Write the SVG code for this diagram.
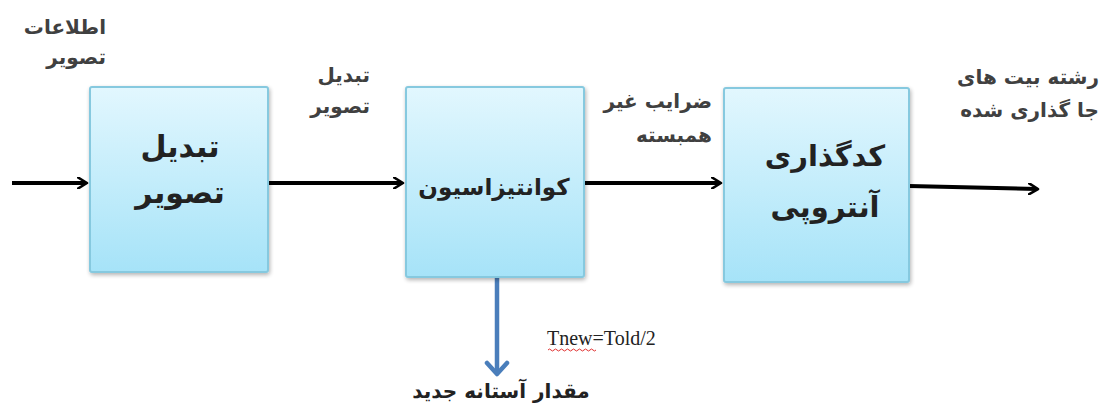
<svg xmlns="http://www.w3.org/2000/svg" width="1103" height="408" viewBox="0 0 1103 408">
<defs>
<linearGradient id="boxGrad" x1="0" y1="0" x2="0" y2="1">
<stop offset="0" stop-color="#e2f7fe"/>
<stop offset="1" stop-color="#a6e3f8"/>
</linearGradient>
<filter id="shadow" x="-10%" y="-10%" width="130%" height="130%">
<feGaussianBlur in="SourceAlpha" stdDeviation="2"/>
<feOffset dx="1" dy="2" result="b"/>
<feComponentTransfer><feFuncA type="linear" slope="0.3"/></feComponentTransfer>
<feMerge><feMergeNode/><feMergeNode in="SourceGraphic"/></feMerge>
</filter>
<marker id="blackHead" markerWidth="12" markerHeight="12" refX="9" refY="6" orient="auto" markerUnits="userSpaceOnUse" viewBox="0 0 12 12">
<path d="M1,0.5 L10,6 L1,11.5" fill="none" stroke="#000" stroke-width="2.6" stroke-linejoin="round" stroke-linecap="round"/>
</marker>
<marker id="blueHead" markerWidth="26" markerHeight="26" refX="13" refY="22" orient="0" markerUnits="userSpaceOnUse" viewBox="0 0 26 26">
<path d="M3,11 L13,22 L23,11" fill="none" stroke="#4a7ebb" stroke-width="4.5" stroke-linecap="round" stroke-linejoin="round"/>
</marker>
</defs>
<style>
.box{fill:url(#boxGrad);stroke:#86c9df;stroke-width:2;filter:url(#shadow)}
.conn{stroke:#000;stroke-width:4;fill:none}
.lbl{font-family:"DejaVu Sans",sans-serif;font-size:20px;font-weight:bold;fill:#404040}
.btxt{font-family:"DejaVu Sans",sans-serif;font-weight:bold;fill:#222;text-anchor:middle}
</style>
<rect width="1103" height="408" fill="#fff"/>
<g id="connectors">
<line class="conn" x1="12" y1="183" x2="86" y2="183" marker-end="url(#blackHead)"/>
<line class="conn" x1="268" y1="183" x2="402" y2="183" marker-end="url(#blackHead)"/>
<line class="conn" x1="584" y1="183" x2="720" y2="183" marker-end="url(#blackHead)"/>
<line class="conn" x1="909" y1="186" x2="1037" y2="189" marker-end="url(#blackHead)"/>
<line x1="497" y1="277" x2="497" y2="374" stroke="#4a7ebb" stroke-width="4.5" marker-end="url(#blueHead)"/>
</g>
<g id="node-transform">
<rect class="box" x="90" y="87" width="178" height="185" rx="2"/>
<text class="btxt" x="180" y="157" font-size="30">تبدیل</text>
<text class="btxt" x="180" y="203" font-size="30">تصویر</text>
</g>
<g id="node-quant">
<rect class="box" x="406" y="87" width="178" height="190" rx="2"/>
<text class="btxt" x="494" y="195" font-size="23">کوانتیزاسیون</text>
</g>
<g id="node-entropy">
<rect class="box" x="724" y="88" width="185" height="194" rx="2"/>
<text class="btxt" x="825" y="166" font-size="29">کدگذاری</text>
<text class="btxt" x="825" y="217" font-size="29">آنتروپی</text>
</g>
<g id="labels">
<text class="lbl" x="106" y="34" text-anchor="end">اطلاعات</text>
<text class="lbl" x="106" y="64" text-anchor="end">تصویر</text>
<text class="lbl" x="370" y="82" text-anchor="end">تبدیل</text>
<text class="lbl" x="370" y="113" text-anchor="end">تصویر</text>
<text class="lbl" x="712" y="108" text-anchor="end">ضرایب غیر</text>
<text class="lbl" x="712" y="142" text-anchor="end">همبسته</text>
<text class="lbl" x="1099" y="84" text-anchor="end">رشته بیت های</text>
<text class="lbl" x="1099" y="117" text-anchor="end">جا گذاری شده</text>
<text x="547" y="345" font-family="'Liberation Serif',serif" font-size="20" fill="#222">Tnew=Told/2</text>
<path d="M548,350 q1.5,-2 3,0 t3,0 t3,0 t3,0 t3,0 t3,0 t3,0 t3,0 t3,0 t3,0 t3,0 t3,0 t3,0 t3,0 t3,0 t3,0" fill="none" stroke="#e03030" stroke-width="1"/>
<text x="501" y="398" font-family="'DejaVu Sans',sans-serif" font-size="20" font-weight="bold" fill="#222" text-anchor="middle">مقدار آستانه جدید</text>
</g>
</svg>
